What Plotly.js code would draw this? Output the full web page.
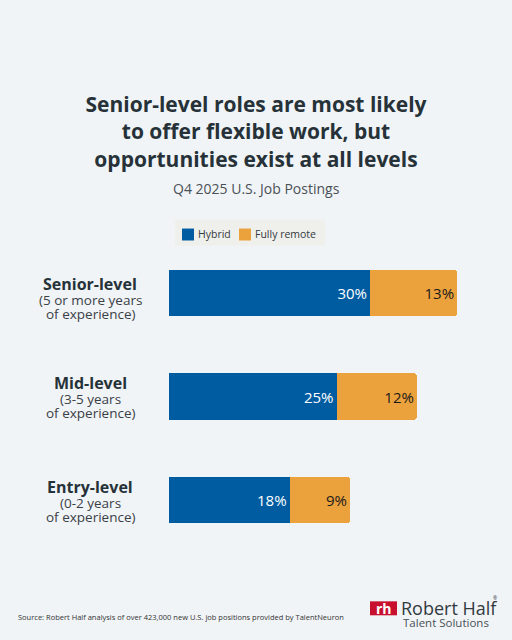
<!DOCTYPE html>
<html>
<head>
<meta charset="utf-8">
<script src="https://cdn.plot.ly/plotly-3.0.1.min.js"></script>
<style>
html,body{margin:0;padding:0;background:#f0f4f7;}
#chart{width:512px;height:640px;}
</style>
</head>
<body>
<div id="chart"></div>
<script>
const categories = ["Senior-level", "Mid-level", "Entry-level"];
const subLine1 = ["(5 or more years", "(3-5 years", "(0-2 years"];
const subLine2 = ["of experience)", "of experience)", "of experience)"];
const hybrid = [30, 25, 18];
const fullyRemote = [13, 12, 9];
const seriesNames = ["Hybrid", "Fully remote"];

const FONT = "Open Sans, Noto Sans, sans-serif";
const BLUE = "#005ca1";
const ORANGE = "#eba23c";
const DARK = "#263238";

// plot area (pixels)
const plotLeft = 169, plotW = 335, plotTop = 240.5, plotH = 312;
const px = v => (v - plotLeft) / plotW;          // pixel x -> paper x
const py = v => 1 - (v - plotTop) / plotH;       // pixel y -> paper y

const colors = [BLUE, ORANGE];
const textColors = ["#ffffff", "#1a1a1a"];
const traces = [hybrid, fullyRemote].map((vals, k) => ({
  type: "bar", orientation: "h", name: seriesNames[k],
  y: categories, x: vals,
  marker: {color: colors[k], line: {width: 0}},
  text: vals.map(v => v + "%"), texttemplate: "%{text}",
  textposition: "inside", insidetextanchor: "end",
  textfont: {color: textColors[k], size: 15, family: FONT},
  width: 0.45, hoverinfo: "none", showlegend: false
}));

const labelLift = [8.5, 13.5, 13];   // label block offset above bar centre (px)
const annotations = [];
categories.forEach((c, i) => {
  const lift = labelLift[i];
  annotations.push({
    xref: "paper", yref: "y", x: px(90), y: c, yshift: lift,
    xanchor: "center", yanchor: "middle", showarrow: false,
    text: "<b>" + c + "</b>",
    font: {family: FONT, size: 16, color: DARK}
  });
  annotations.push({
    xref: "paper", yref: "y", x: px(90), y: c, yshift: lift - 15.5,
    xanchor: "center", yanchor: "middle", showarrow: false,
    text: subLine1[i],
    font: {family: FONT, size: 13.5, color: "#3a4046"}
  });
  annotations.push({
    xref: "paper", yref: "y", x: px(90), y: c, yshift: lift - 29.5,
    xanchor: "center", yanchor: "middle", showarrow: false,
    text: subLine2[i],
    font: {family: FONT, size: 13.5, color: "#3a4046"}
  });
});

// Subtitle
annotations.push({
  xref: "paper", yref: "paper", x: px(256), y: py(188),
  xanchor: "center", yanchor: "middle", showarrow: false,
  text: "Q4 2025 U.S. Job Postings",
  font: {family: FONT, size: 14, color: "#4a5056"}
});

// Legend (manual)
const shapes = [
  {type: "rect", xref: "paper", yref: "paper", x0: px(175), x1: px(325), y0: py(219), y1: py(245),
   fillcolor: "#efefec", line: {width: 0}, layer: "below"},
  {type: "rect", xref: "paper", yref: "paper", x0: px(182), x1: px(194), y0: py(228), y1: py(240),
   fillcolor: BLUE, line: {width: 0}},
  {type: "rect", xref: "paper", yref: "paper", x0: px(239), x1: px(251), y0: py(228), y1: py(240),
   fillcolor: ORANGE, line: {width: 0}}
];
annotations.push({
  xref: "paper", yref: "paper", x: px(196), y: py(233.5),
  xanchor: "left", yanchor: "middle", showarrow: false,
  text: seriesNames[0], font: {family: FONT, size: 10.5, color: "#333a40"}
});
annotations.push({
  xref: "paper", yref: "paper", x: px(253), y: py(233.5),
  xanchor: "left", yanchor: "middle", showarrow: false,
  text: seriesNames[1], font: {family: FONT, size: 10.5, color: "#333a40"}
});

// Source
annotations.push({
  xref: "paper", yref: "paper", x: px(16), y: py(617.5),
  xanchor: "left", yanchor: "middle", showarrow: false,
  text: "Source: Robert Half analysis of over 423,000 new U.S. job positions provided by TalentNeuron",
  font: {family: FONT, size: 7.5, color: "#333333"}
});
// Logo
shapes.push({type: "rect", xref: "paper", yref: "paper", x0: px(370), x1: px(397), y0: py(602), y1: py(616),
  fillcolor: "#c8102e", line: {width: 0}});
annotations.push({
  xref: "paper", yref: "paper", x: px(383.5), y: py(609),
  xanchor: "center", yanchor: "middle", showarrow: false,
  text: "<b>rh</b>", font: {family: FONT, size: 14, color: "#ffffff"}
});
annotations.push({
  xref: "paper", yref: "paper", x: px(399), y: py(608.5),
  xanchor: "left", yanchor: "middle", showarrow: false,
  text: "Robert Half",
  font: {family: FONT, size: 18, color: "#333a40"}
});
annotations.push({
  xref: "paper", yref: "paper", x: px(491), y: py(599),
  xanchor: "left", yanchor: "middle", showarrow: false,
  text: "®", font: {family: FONT, size: 5, color: "#333a40"}
});
annotations.push({
  xref: "paper", yref: "paper", x: px(401), y: py(623.5),
  xanchor: "left", yanchor: "middle", showarrow: false,
  text: "Talent Solutions",
  font: {family: FONT, size: 11.5, color: "#4a5056"}
});

const layout = {
  width: 512, height: 640,
  paper_bgcolor: "#f0f4f7", plot_bgcolor: "#f0f4f7",
  margin: {l: plotLeft, r: 512 - plotLeft - plotW, t: plotTop, b: 640 - plotTop - plotH},
  barmode: "stack",
  barcornerradius: 3,
  showlegend: false,
  title: {
    text: "<b>Senior-level roles are most likely<br>to offer flexible work, but<br>opportunities exist at all levels</b>",
    x: 0.5, xref: "container", xanchor: "center",
    y: 1 - 112 / 640, yref: "container", yanchor: "middle",
    font: {family: FONT, size: 21, color: DARK}
  },
  xaxis: {range: [0, 50], visible: false, fixedrange: true},
  yaxis: {autorange: "reversed", showticklabels: false, showgrid: false, zeroline: false, showline: false, ticks: ""},
  shapes: shapes,
  annotations: annotations
};

Plotly.newPlot("chart", traces, layout, {displayModeBar: false, staticPlot: true});
</script>
</body>
</html>
